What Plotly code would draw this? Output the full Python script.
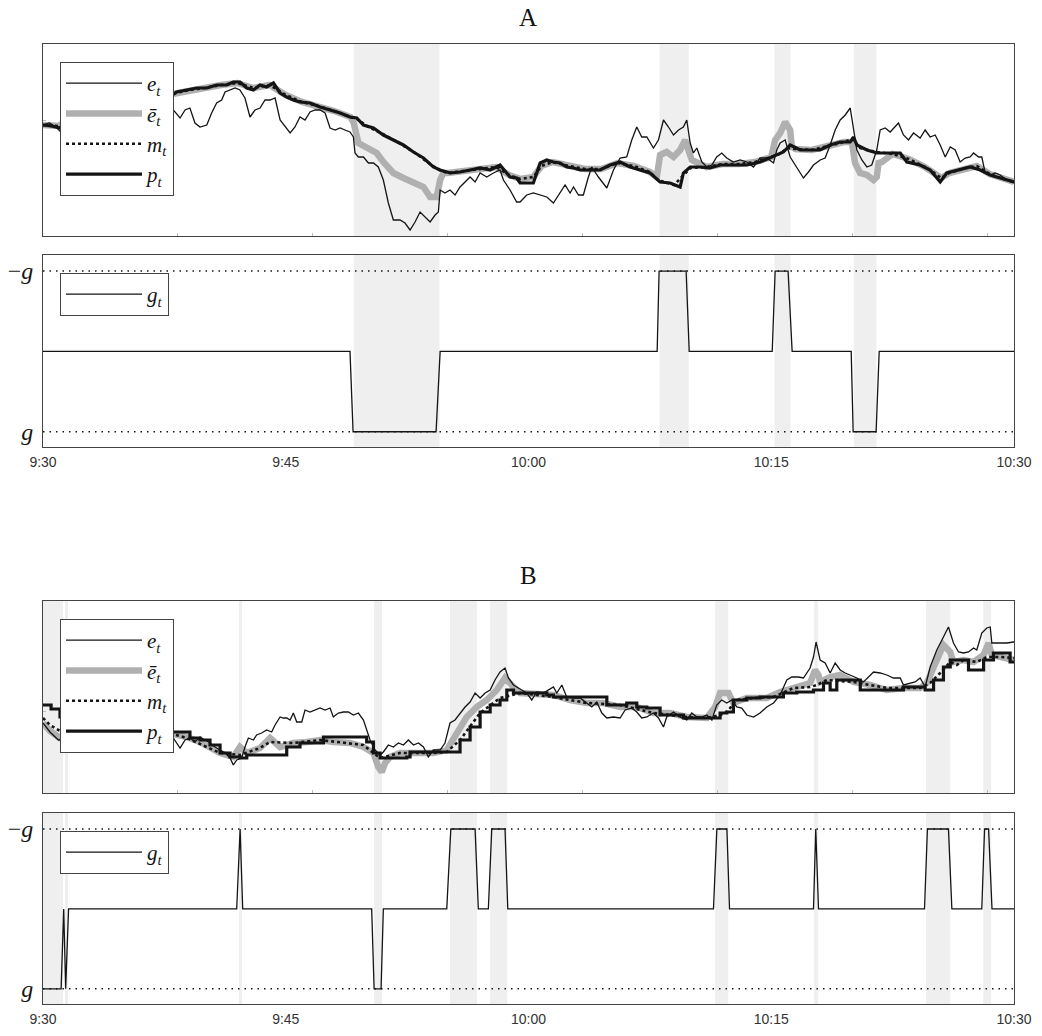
import plotly.graph_objects as go

# ---------------- data (time in minutes after 9:30) ----------------
x_tick_vals = [0, 15, 30, 45, 60]
x_tick_text = ["9:30", "9:45", "10:00", "10:15", "10:30"]

# ---- Panel A ----
eA_t = [0, 0.4, 0.8, 1.05, 2, 3, 4, 5, 6, 7, 7.81, 8.05, 8.47, 8.78, 9.08, 9.39, 9.70, 10.12, 10.42, 10.73,
        11.04, 11.25, 11.56, 11.87, 12.17, 12.48, 12.79, 13.10, 13.41, 13.72, 14.03, 14.34, 14.65, 14.96, 15.27,
        15.57, 15.88, 16.19, 16.50, 16.81, 17.12, 17.43, 17.74, 18.05, 18.36, 18.66, 18.97, 19.18, 19.28, 19.49,
        19.80, 20.11, 20.42, 20.72, 21.03, 21.34, 21.65, 22.06, 22.37, 22.68, 22.99, 23.30, 23.61, 23.92, 24.23,
        24.43, 24.54, 24.84, 25.15, 25.46, 25.77, 26.08, 26.39, 26.70, 27.01, 27.42, 27.83, 28.24, 28.45, 28.86,
        29.27, 29.48, 29.89, 30.30, 30.72, 31.13, 31.54, 31.95, 32.26, 32.57, 32.78, 33.09, 33.39, 33.70, 33.91,
        34.32, 34.84, 35.25, 35.66, 36.07, 36.38, 36.69, 37.00, 37.31, 37.72, 38.03, 38.34, 38.65, 38.96, 39.27,
        39.57, 39.78, 39.99, 40.19, 40.40, 40.71, 41.02, 41.33, 41.63, 41.94, 42.25, 42.66, 43.08, 43.49, 43.90,
        44.31, 44.72, 45.14, 45.34, 45.55, 45.86, 46.17, 46.58, 46.99, 47.30, 47.61, 48.02, 48.33, 48.64, 48.95,
        49.26, 49.57, 49.88, 50.08, 50.29, 50.60, 50.91, 51.21, 51.52, 51.73, 52.04, 52.35, 52.66, 52.86, 53.17,
        53.48, 53.79, 54.20, 54.51, 54.82, 55.13, 55.44, 55.75, 56.06, 56.37, 56.67, 56.98, 57.29, 57.50, 57.81,
        58.01, 58.22, 58.53, 58.84, 59.15, 59.56, 60]
eA_v = [111, 113, 109, 105, 118, 125, 130, 133, 136, 132, 134, 126, 118, 126, 128, 113, 109, 111, 123, 133,
        136, 144, 146, 148, 146, 138, 119, 126, 128, 136, 136, 138, 116, 109, 103,
        109, 119, 116, 124, 126, 126, 123, 108, 106, 108, 106, 104, 99, 83, 79,
        79, 73, 73, 69, 56, 33, 16, 16, 13, 6, 14, 24, 19, 14, 21,
        24, 46, 43, 46, 41, 49, 54, 59, 54, 63, 59, 63, 66, 56, 46,
        34, 34, 41, 43, 41, 39, 33, 43, 51, 43, 49, 41, 41, 59, 69,
        59, 48, 66, 78, 79, 96, 109, 99, 99, 88, 96, 116, 109, 101, 106,
        109, 116, 93, 83, 88, 74, 69, 71, 79, 83, 78, 74, 76, 74, 69,
        78, 78, 73, 86, 93, 96, 79, 69, 58, 64, 71, 76, 78, 91, 106,
        116, 121, 128, 106, 86, 76, 69, 71, 86, 106, 108, 104, 109, 113, 101,
        96, 103, 98, 106, 99, 101, 91, 79, 89, 86, 74, 78, 79, 83, 79,
        79, 63, 61, 63, 61, 56, 53]

pA_t = [0, 0.5, 1.05, 2, 3, 4, 5, 6, 7, 7.81, 8.26, 8.88, 9.50, 10.12, 10.73, 11.35, 11.76, 12.17, 12.59,
        13.00, 13.41, 13.82, 14.24, 14.65, 15.06, 15.47, 15.88, 16.50, 17.12, 17.74, 18.36, 18.97, 19.39, 19.80,
        20.42, 21.03, 21.65, 22.27, 22.89, 23.51, 24.12, 24.54, 25.15, 25.77, 26.39, 27.01, 27.63, 28.24, 28.86,
        29.27, 29.48, 30.30, 30.72, 31.13, 31.54, 31.95, 32.36, 32.78, 33.19, 33.60, 34.42, 35.04, 35.66, 36.28,
        36.90, 37.51, 38.13, 38.75, 39.37, 39.57, 39.99, 40.60, 41.22, 41.84, 42.66, 43.49, 44.31, 44.93, 45.34,
        45.75, 46.17, 46.79, 47.40, 48.02, 48.64, 49.26, 49.88, 50.08, 50.29, 50.91, 51.52, 52.14, 52.97, 53.38,
        54.20, 54.82, 55.44, 55.85, 56.67, 57.29, 57.91, 58.53, 59.15, 59.97, 60]
pA_v = [111, 110, 108, 125, 132, 136, 138, 139, 138, 139, 144, 146, 148, 148, 151, 151, 154, 154, 148,
        146, 151, 149, 153, 143, 139, 136, 134, 133, 129, 126, 123, 119, 118, 111,
        108, 101, 96, 91, 84, 78, 69, 66, 63, 64, 66, 68, 66, 71, 59,
        58, 53, 53, 73, 76, 74, 73, 69, 68, 66, 66, 66, 71, 74, 69,
        66, 63, 54, 53, 49, 63, 69, 69, 68, 71, 71, 71, 74, 78, 81,
        84, 91, 86, 86, 86, 91, 94, 94, 99, 91, 86, 83, 83, 83, 74,
        71, 66, 54, 63, 66, 69, 66, 61, 58, 54, 54]

mA_t = [0, 1, 2, 3, 4, 5, 6, 7, 8, 9, 10, 11, 12, 13, 14, 15, 16, 17, 18, 19, 19.4, 20, 21, 22, 23, 24, 24.5,
        25, 26, 27, 28, 28.8, 29.5, 30.3, 30.8, 31.5, 32.5, 33.5, 34.5, 35.5, 36.5, 37.5, 38, 39, 39.5, 40, 41,
        42, 43, 44, 45, 45.5, 46, 46.5, 47.5, 48.5, 49.5, 50, 50.5, 51.5, 52.5, 53.5, 54.5, 55, 55.5, 56, 57,
        57.7, 58.5, 59.2, 60]
mA_v = [111, 110, 124, 131, 135, 137, 139, 139, 142, 146, 148, 151, 153, 148, 151, 141, 134, 130, 125, 119, 117,
        110, 102, 93, 83, 71, 66, 63, 65, 67, 69, 61, 57, 59, 70, 74, 70, 67, 67, 73, 70, 64, 56, 51, 60, 68, 69,
        72, 72, 74, 79, 82, 88, 87, 86, 90, 94, 97, 88, 84, 82, 77, 69, 64, 58, 63, 68,
        70, 62, 58, 54]

ebA_t = [0, 1, 2, 3, 4, 5, 6, 7, 8, 9, 10, 11, 12, 13, 14, 15, 16, 17, 18, 19, 19.2, 19.49, 20, 20.62, 21.03,
         21.65, 22.27, 22.89, 23.51, 23.92, 24.33, 24.54, 24.74, 25, 26, 27, 28, 28.8, 29.5, 30.3, 30.8, 31.5,
         32.5, 33.5, 34.5, 35.5, 36.5, 37.5, 37.93, 38.13, 38.54, 38.96, 39.37, 39.68, 39.88, 40.09, 41, 42, 43,
         44, 45, 45.24, 45.55, 45.86, 46.17, 46.27, 46.5, 47.5, 48.5, 49.5, 49.98, 50.18, 50.49, 50.91, 51.32,
         51.52, 51.63, 51.83, 52.5, 53.5, 54.5, 55, 55.5, 56, 57, 57.7, 58.5, 59.2, 60]
ebA_v = [111, 110, 124, 131, 135, 137, 139, 139, 142, 146, 148, 151, 153, 148, 151, 141, 134, 130, 125, 119, 113,
         93, 88, 83, 74, 63, 58, 53, 49, 39, 39, 56, 63, 63, 65, 67, 69, 61, 57, 59, 70, 74,
         70, 67, 67, 73, 70, 64, 59, 81, 84, 79, 86, 96, 86, 76, 69, 72, 72,
         74, 79, 96, 103, 114, 106, 89, 87, 86, 90, 94, 94, 73, 63, 61, 56,
         59, 73, 74, 82, 77, 69, 64, 58, 63, 68, 70, 62, 58, 54]

gA_t = [0, 18.97, 19.16, 24.29, 24.54, 37.95, 38.07, 39.74, 39.93, 45.06, 45.24, 46.04, 46.29,
        49.94, 50.06, 51.48, 51.67, 60]
gA_v = [0, 0, 1, 1, 0, 0, -1, -1, 0, 0, -1, -1, 0, 0, 1, 1, 0, 0]   # in units of g

shadeA_start = [19.2, 38.1, 45.2, 50.1]
shadeA_end = [24.5, 39.9, 46.2, 51.5]

# ---- Panel B ----
eB_t = [0, 0.43, 0.95, 2, 3, 4, 5, 6, 7, 7.81, 8.05, 8.47, 8.78, 9.08, 9.39, 9.70, 10.01, 10.32, 10.63, 10.94,
        11.25, 11.56, 11.76, 11.97, 12.28, 12.48, 12.69, 13.00, 13.20, 13.51, 13.82, 14.13, 14.34, 14.65, 14.85,
        15.06, 15.27, 15.47, 15.68, 15.99, 16.19, 16.50, 16.81, 17.12, 17.43, 17.74, 17.94, 18.25, 18.56, 18.87,
        19.18, 19.49, 19.80, 20.00, 20.21, 20.52, 20.83, 21.03, 21.34, 21.65, 21.96, 22.27, 22.58, 22.89, 23.20,
        23.51, 23.81, 24.12, 24.54, 24.84, 25.15, 25.46, 25.77, 26.08, 26.39, 26.70, 27.01, 27.32, 27.63, 27.93,
        28.24, 28.55, 28.76, 29.07, 29.48, 29.89, 30.20, 30.51, 30.92, 31.23, 31.54, 31.75, 32.06, 32.36, 32.78,
        33.19, 33.60, 33.91, 34.22, 34.53, 34.84, 35.25, 35.66, 35.97, 36.38, 36.69, 37.00, 37.31, 37.72, 38.03,
        38.34, 38.54, 38.96, 39.37, 39.78, 40.09, 40.40, 40.71, 41.02, 41.33, 41.63, 41.94, 42.25, 42.56, 42.87,
        43.18, 43.49, 43.90, 44.31, 44.72, 45.14, 45.55, 45.96, 46.27, 46.68, 46.99, 47.40, 47.61, 47.77, 48.02,
        48.33, 48.64, 48.95, 49.26, 49.57, 49.88, 50.29, 50.70, 51.01, 51.32, 51.73, 52.14, 52.55, 52.97, 53.17,
        53.58, 53.89, 54.20, 54.51, 54.82, 55.23, 55.64, 55.95, 56.26, 56.57, 56.88, 57.19, 57.50, 57.70, 58.01,
        58.32, 58.53, 58.63, 58.94, 59.25, 59.56, 59.97, 60]
eB_v = [70, 61, 53, 55, 58, 60, 57, 58, 59, 56, 55, 45, 53, 55, 51, 56, 53, 50, 46, 43,
        40, 35, 28, 33, 35, 46, 55, 53, 58, 60, 63, 61, 68, 76, 75,
        75, 73, 80, 71, 71, 83, 81, 83, 85, 83, 85, 76, 80, 81, 81,
        78, 80, 73, 63, 53, 43, 38, 41, 48, 46, 50, 48, 53, 48, 50,
        46, 36, 43, 43, 50, 70, 73, 80, 86, 91, 100, 95, 100, 103, 113,
        121, 125, 115, 108, 104, 100, 93, 101, 100, 103, 106, 100, 108, 96, 95,
        95, 90, 86, 91, 80, 75, 76, 75, 83, 85, 81, 75, 76, 80, 75,
        66, 76, 81, 76, 73, 80, 76, 76, 78, 73, 88, 93, 90, 93, 86,
        85, 78, 76, 80, 86, 90, 98, 113, 116, 116, 115, 125, 136, 151, 133,
        130, 120, 130, 123, 120, 118, 115, 111, 116, 121, 120, 118, 115, 115, 108,
        110, 111, 115, 106, 126, 143, 156, 166, 150, 141, 140, 141, 145, 143, 160,
        165, 166, 150, 150, 150, 150, 151, 151]

pB_t = [0, 0.5, 1.05, 2, 3, 4, 5, 6, 7, 7.81, 8.88, 9.08, 9.70, 10.32, 10.94, 11.56, 12.17, 12.59, 14.85,
        15.06, 15.88, 17.33, 19.80, 20.00, 20.42, 20.83, 22.48, 22.68, 25.15, 25.77, 26.39, 27.01, 27.63, 28.24,
        28.66, 29.07, 29.48, 31.13, 31.54, 34.84, 36.07, 36.69, 37.31, 38.13, 39.57, 41.84, 42.25, 42.66, 43.49,
        44.31, 45.75, 46.58, 47.61, 48.23, 48.64, 49.05, 50.50, 53.17, 54.51, 55.03, 55.64, 56.06, 57.19, 58.12,
        58.73, 59.76, 60]
pB_v = [88, 84, 76, 68, 64, 62, 62, 61, 61, 61, 61, 55, 53, 48, 40, 36, 35, 38, 38,
        46, 50, 56, 56, 51, 40, 35, 36, 41, 41, 53, 66, 81, 88, 93,
        103, 100, 100, 98, 96, 88, 90, 86, 85, 78, 75, 80, 81, 93, 95,
        96, 100, 101, 103, 110, 103, 113, 103, 106, 103, 113, 126, 133, 123, 133,
        140, 131, 131]

mB_t = [0, 0.43, 1.05, 2, 3, 4, 5, 6, 7, 7.81, 8.88, 10.94, 12.17, 13.41, 14.03, 15.47, 17.12, 19.80, 20.42,
        20.83, 22.06, 24.12, 24.95, 25.77, 27.01, 28.24, 29.48, 31.54, 32.57, 33.60, 35.66, 37.72, 39.78, 41.02,
        41.84, 42.25, 42.87, 43.90, 45.14, 46.37, 47.40, 47.82, 48.43, 50.08, 51.11, 52.14, 54.20, 54.82, 55.44,
        56.06, 56.47, 56.88, 57.70, 58.32, 59.15, 59.97, 60]
mB_v = [75, 68, 62, 60, 60, 61, 60, 60, 60, 60, 55, 40, 38, 45, 51, 50, 53, 48, 40,
        35, 40, 40, 41, 53, 80, 95, 100, 96, 93, 90, 88, 80, 76, 75,
        78, 81, 93, 95, 96, 105, 106, 108, 113, 111, 108, 105, 105, 110, 120,
        131, 128, 133, 131, 136, 136, 135, 135]

ebB_t = [0, 0.43, 1.05, 2, 3, 4, 5, 6, 7, 7.81, 8.88, 9.70, 10.94, 11.76, 12.17, 12.59, 13.41, 14.03, 14.65,
         15.47, 16.30, 17.12, 17.94, 18.97, 19.80, 20.42, 20.72, 20.93, 21.14, 21.45, 22.06, 22.89, 24.12, 24.95,
         25.57, 26.18, 26.80, 27.42, 28.04, 28.55, 29.07, 29.48, 31.54, 32.57, 33.60, 34.63, 35.66, 36.69, 37.72,
         38.75, 39.78, 41.02, 41.53, 41.84, 42.36, 42.66, 43.49, 44.72, 45.55, 46.37, 47.40, 47.71, 47.92, 48.02,
         48.64, 49.26, 50.08, 51.11, 52.14, 53.17, 54.20, 54.61, 55.23, 55.64, 56.06, 56.26, 56.88, 57.50, 58.12,
         58.43, 58.63, 59.15, 59.97, 60]
ebB_v = [70, 62, 55, 58, 60, 61, 60, 60, 60, 60, 56, 51, 40, 36, 46, 40, 45, 55, 46,
         50, 51, 53, 51, 50, 46, 40, 26, 21, 30, 36, 40, 40, 40, 43,
         60, 76, 86, 93, 103, 115, 106, 100, 98, 93, 90, 90, 86, 86, 80,
         80, 76, 75, 86, 100, 100, 90, 95, 95, 101, 105, 110, 123, 118, 111,
         116, 118, 111, 108, 103, 105, 105, 110, 133, 148, 141, 131, 133, 131, 138,
         150, 138, 136, 133, 133]

gB_t = [0, 1.12, 1.28, 1.40, 1.58, 11.97, 12.18, 12.34, 20.31, 20.46, 20.89, 21.03, 24.95, 25.20, 26.70,
        26.90, 27.52, 27.73, 28.55, 28.72, 41.43, 41.64, 42.26, 42.42, 47.61, 47.75, 47.92, 54.47, 54.65,
        55.95, 56.16, 58.01, 58.18, 58.43, 58.64, 60]
gB_v = [1, 1, 0, 1, 0, 0, -1, 0, 0, 1, 1, 0, 0, -1, -1,
        0, 0, -1, -1, 0, 0, -1, -1, 0, 0, -1, 0, 0, -1,
        -1, 0, 0, -1, -1, 0, 0]

shadeB_start = [0.0, 1.36, 12.11, 20.46, 25.15, 27.63, 41.53, 47.65, 54.57, 58.10]
shadeB_end = [1.24, 1.55, 12.30, 20.95, 26.82, 28.68, 42.34, 47.90, 56.06, 58.59]

# ---------------- styling ----------------
BLACK = "#141414"
GREY = "#b0b0b0"
SHADE = "#efefef"
AXIS = "#444444"
SERIF = "Liberation Serif, DejaVu Serif, serif"
SANS = "Liberation Sans, Arial, sans-serif"

W, H = 1042, 1036
OX, OY = 8, 8   # page body offset of the plot div


def px_x(px):
    return (px - OX) / W


def px_y(py):
    return 1 - (py - OY) / H


x_dom = [px_x(43), px_x(1014)]


def ydom(top_px, bot_px):
    return [px_y(bot_px), px_y(top_px)]


fig = go.Figure()

lbl_e = "<i>e<sub>t</sub></i>"
lbl_eb = "<i>ē<sub>t</sub></i>"
lbl_m = "<i>m<sub>t</sub></i>"
lbl_p = "<i>p<sub>t</sub></i>"
lbl_g = "<i>g<sub>t</sub></i>"


def add_panel(xa, ya, xb, yb, leg_top, leg_bot, p_shape,
              e_t, e_v, eb_t, eb_v, m_t, m_v, p_t, p_v, g_t, g_v):
    fig.add_trace(go.Scatter(x=eb_t, y=eb_v, mode="lines", name=lbl_eb, legendrank=2,
                             line=dict(color=GREY, width=6.5), xaxis=xa, yaxis=ya, legend=leg_top))
    fig.add_trace(go.Scatter(x=e_t, y=e_v, mode="lines", name=lbl_e, legendrank=1,
                             line=dict(color=BLACK, width=1.3), xaxis=xa, yaxis=ya, legend=leg_top))
    fig.add_trace(go.Scatter(x=p_t, y=p_v, mode="lines", name=lbl_p, legendrank=4,
                             line=dict(color=BLACK, width=3.2, shape=p_shape), xaxis=xa, yaxis=ya,
                             legend=leg_top))
    fig.add_trace(go.Scatter(x=m_t, y=m_v, mode="lines", name=lbl_m, legendrank=3,
                             line=dict(color=BLACK, width=2.6, dash="dot"), xaxis=xa, yaxis=ya, legend=leg_top))
    fig.add_trace(go.Scatter(x=g_t, y=g_v, mode="lines", name=lbl_g,
                             line=dict(color=BLACK, width=1.3), xaxis=xb, yaxis=yb, legend=leg_bot))


add_panel("x", "y", "x2", "y2", "legend", "legend2", "linear",
          eA_t, eA_v, ebA_t, ebA_v, mA_t, mA_v, pA_t, pA_v, gA_t, gA_v)
add_panel("x3", "y3", "x4", "y4", "legend3", "legend4", "hv",
          eB_t, eB_v, ebB_t, ebB_v, mB_t, mB_v, pB_t, pB_v, gB_t, gB_v)

shapes = []
for starts, ends, axes in [(shadeA_start, shadeA_end, [("x", "y"), ("x2", "y2")]),
                           (shadeB_start, shadeB_end, [("x3", "y3"), ("x4", "y4")])]:
    for s, e in zip(starts, ends):
        for xr, yr in axes:
            shapes.append(dict(type="rect", xref=xr, yref=yr + " domain", x0=s, x1=e, y0=0, y1=1,
                               fillcolor=SHADE, line=dict(width=0), layer="below"))
for xr, yr in [("x2", "y2"), ("x4", "y4")]:
    for lev in (-1, 1):
        shapes.append(dict(type="line", xref=xr + " domain", yref=yr, x0=0, x1=1, y0=lev, y1=lev,
                           line=dict(color=BLACK, width=1.5, dash="1.5px,5px"), layer="below"))

common_x = dict(range=[0, 60], showgrid=False, zeroline=False, showline=True, linecolor=AXIS, linewidth=1,
                mirror=True, domain=x_dom, fixedrange=True, automargin=False)
common_y = dict(showgrid=False, zeroline=False, showline=True, linecolor=AXIS, linewidth=1, mirror=True,
                fixedrange=True, automargin=False)

top_ticks = [500 / 60 * k for k in range(1, 8)]

layout_axes = {}
for xk, yk, dom, xanc, yanc, ytick in [("xaxis", "yaxis", ydom(44, 236), "y", "x", 116),
                                       ("xaxis3", "yaxis3", ydom(601, 793), "y3", "x3", 82)]:
    layout_axes[xk] = dict(common_x, anchor=xanc, tickvals=top_ticks, ticks="inside", ticklen=3,
                           tickcolor="#bbbbbb", showticklabels=False)
    layout_axes[yk] = dict(common_y, anchor=yanc, domain=dom, range=[0, 192], ticks="inside", ticklen=3,
                           tickcolor="#bbbbbb", showticklabels=False, tickvals=[ytick])
for xk, yk, dom, xanc, yanc in [("xaxis2", "yaxis2", ydom(255, 447), "y2", "x2"),
                                ("xaxis4", "yaxis4", ydom(813, 1004), "y4", "x4")]:
    layout_axes[xk] = dict(common_x, anchor=xanc, tickvals=x_tick_vals, ticktext=x_tick_text,
                           ticks="outside", ticklen=2, tickcolor="rgba(0,0,0,0)",
                           tickfont=dict(family=SANS, size=14, color="#333333"))
    layout_axes[yk] = dict(common_y, anchor=yanc, domain=dom, range=[1.19, -1.2], tickvals=[-1, 1],
                           ticktext=["−<i>g</i>", "<i>g</i>"], ticks="", ticklabelstandoff=4,
                           tickfont=dict(family=SERIF, size=24, color=BLACK))

leg_common = dict(bgcolor="white", bordercolor=AXIS, borderwidth=1, xanchor="left", yanchor="top",
                  font=dict(family=SERIF, size=21, color=BLACK), traceorder="normal", tracegroupgap=0,
                  itemwidth=76, itemclick=False, itemdoubleclick=False)

fig.update_layout(
    template="none",
    width=W, height=H, margin=dict(l=0, r=0, t=0, b=0, pad=0),
    paper_bgcolor="white", plot_bgcolor="white", shapes=shapes,
    legend=dict(leg_common, x=px_x(60), y=px_y(62)),
    legend2=dict(leg_common, x=px_x(60), y=px_y(273)),
    legend3=dict(leg_common, x=px_x(60), y=px_y(619)),
    legend4=dict(leg_common, x=px_x(60), y=px_y(831)),
    annotations=[
        dict(text="A", x=px_x(528), y=px_y(17), xref="paper", yref="paper", showarrow=False,
             xanchor="center", yanchor="middle", font=dict(family=SERIF, size=25, color=BLACK)),
        dict(text="B", x=px_x(528), y=px_y(575), xref="paper", yref="paper", showarrow=False,
             xanchor="center", yanchor="middle", font=dict(family=SERIF, size=25, color=BLACK)),
    ],
    **layout_axes,
)

fig.write_html("out.html")
